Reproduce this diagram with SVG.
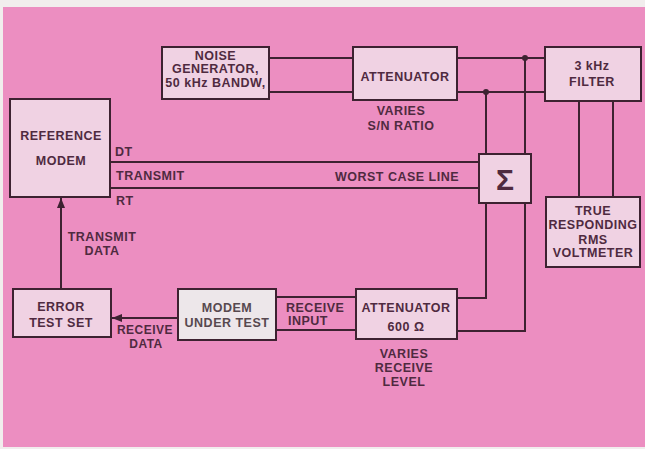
<svg xmlns="http://www.w3.org/2000/svg" width="645" height="449" viewBox="0 0 645 449">
<defs>
<style>
.bx{fill:#f0d2e3;stroke:#3d2231;stroke-width:2}
.wb{fill:#ede7ea;stroke:#3d2231;stroke-width:2}
.ln{fill:none;stroke:#3d2231;stroke-width:2}
text{font-family:"Liberation Sans",Arial,sans-serif;font-size:12.5px;font-weight:bold;fill:#4f2a40;letter-spacing:0.5px}
.c{text-anchor:middle}
.g{fill:#57494f}
</style>
<marker id="ah" markerWidth="10" markerHeight="8" refX="10" refY="4" orient="auto" markerUnits="userSpaceOnUse">
<path d="M0,0 L10,4 L0,8 Z" fill="#3d2231"/>
</marker>
</defs>
<rect x="0" y="0" width="645" height="449" fill="#f1eded"/>
<rect x="3" y="7" width="642" height="440" fill="#ec8ec1"/>

<g id="connectors">
<path class="ln" d="M269,58 H353 M269,92 H353"/>
<path class="ln" d="M457,58 H545 M457,92 H545"/>
<path class="ln" d="M525,58 V154 M486,92 V154"/>
<path class="ln" d="M486,203 V298 H457 M525,203 V331 H457"/>
<path class="ln" d="M276,297 H356 M276,330 H356"/>
<path class="ln" d="M110,162 H479 M110,188 H479"/>
<path class="ln" d="M579,101 V197 M613,101 V197"/>
<path class="ln" d="M61,289 V198" marker-end="url(#ah)"/>
<path class="ln" d="M178,318 H112" marker-end="url(#ah)"/>
<circle cx="525" cy="58" r="3" fill="#3d2231"/>
<circle cx="486" cy="92" r="3" fill="#3d2231"/>
<text x="115" y="156">DT</text>
<text x="116" y="180">TRANSMIT</text>
<text x="116" y="205">RT</text>
<text class="c" x="397" y="181">WORST CASE LINE</text>
<text class="c" x="102" y="241">TRANSMIT</text>
<text class="c" x="102" y="255">DATA</text>
<text class="c" x="145" y="334" style="font-size:12px">RECEIVE</text>
<text class="c" x="146" y="348" style="font-size:12px">DATA</text>
<text x="286" y="312">RECEIVE</text>
<text x="288" y="325">INPUT</text>
</g>

<g id="noise-generator">
<rect class="bx" x="162" y="47" width="107" height="52"/>
<text class="c" x="215.5" y="60">NOISE</text>
<text class="c" x="215.5" y="73">GENERATOR,</text>
<text class="c" x="215.5" y="87">50 kHz BANDW,</text>
</g>

<g id="attenuator-top">
<rect class="bx" x="353" y="47" width="104" height="53"/>
<text class="c" x="405" y="81">ATTENUATOR</text>
<text class="c" x="401" y="115">VARIES</text>
<text class="c" x="401" y="130">S/N RATIO</text>
</g>

<g id="filter">
<rect class="bx" x="545" y="47" width="96" height="54"/>
<text class="c" x="592" y="70">3 kHz</text>
<text class="c" x="592" y="86">FILTER</text>
</g>

<g id="reference-modem">
<rect class="bx" x="10" y="99" width="100" height="98"/>
<text class="c" x="61" y="140">REFERENCE</text>
<text class="c" x="61" y="165">MODEM</text>
</g>

<g id="sigma">
<rect class="bx" x="479" y="154" width="52" height="49"/>
<text class="c" x="505" y="190" style="font-size:30px;letter-spacing:0">Σ</text>
</g>

<g id="voltmeter">
<rect class="bx" x="546" y="197" width="94" height="70"/>
<text class="c" x="593" y="215">TRUE</text>
<text class="c" x="593" y="229">RESPONDING</text>
<text class="c" x="593" y="244">RMS</text>
<text class="c" x="593" y="257">VOLTMETER</text>
</g>

<g id="error-test-set">
<rect class="bx" x="13" y="289" width="98" height="48"/>
<text class="c" x="61" y="311">ERROR</text>
<text class="c" x="61" y="327">TEST SET</text>
</g>

<g id="modem-under-test">
<rect class="wb" x="178" y="289" width="98" height="51"/>
<text class="c g" x="227" y="312">MODEM</text>
<text class="c g" x="227" y="327">UNDER TEST</text>
</g>

<g id="attenuator-600">
<rect class="bx" x="356" y="289" width="101" height="50"/>
<text class="c" x="406" y="312">ATTENUATOR</text>
<text class="c" x="406" y="331">600 Ω</text>
<text class="c" x="404" y="358">VARIES</text>
<text class="c" x="404" y="372">RECEIVE</text>
<text class="c" x="404" y="386">LEVEL</text>
</g>
</svg>
